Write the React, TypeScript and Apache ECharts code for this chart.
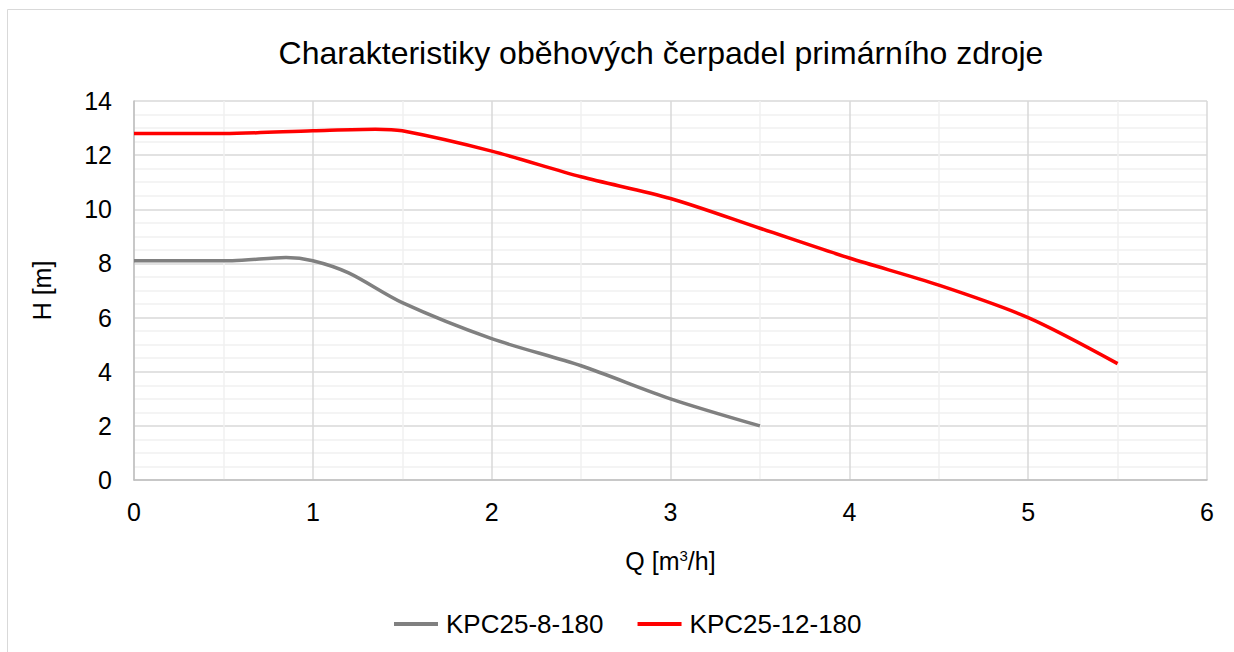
import React, { useEffect, useRef } from "react";
import * as echarts from "echarts";

const seriesNames = ["KPC25-8-180", "KPC25-12-180"];
const seriesColors = ["#808080", "#ff0000"];

const q8 = [0, 0.55, 0.85, 1.0, 1.2, 1.5, 2.0, 2.5, 3.0, 3.5];
const h8 = [8.1, 8.1, 8.22, 8.1, 7.65, 6.55, 5.22, 4.22, 3.0, 2.0];

const q12 = [0, 0.5, 1.0, 1.35, 1.5, 2.0, 2.5, 3.0, 3.5, 4.0, 4.5, 5.0, 5.5];
const h12 = [12.8, 12.8, 12.9, 12.96, 12.9, 12.15, 11.2, 10.4, 9.3, 8.2, 7.2, 6.0, 4.3];

const titleText = "Charakteristiky oběhových čerpadel primárního zdroje";
const xName = "Q [m{sup|3}/h]";
const yName = "H [m]";

const FONT = "'Liberation Sans', Arial, sans-serif";

export default function App() {
  const ref = useRef<HTMLDivElement>(null);
  useEffect(() => {
    if (!ref.current) return;
    const chart = echarts.init(ref.current, undefined, { renderer: "svg" });
    const mk = (qs: number[], hs: number[]) => qs.map((q, i) => [q, hs[i]]);
    chart.setOption({
      animation: false,
      backgroundColor: "#ffffff",
      textStyle: { fontFamily: FONT },
      title: {
        text: titleText,
        left: 656,
        textAlign: "center",
        top: 32,
        textStyle: { fontFamily: FONT, fontSize: 32, fontWeight: "normal", color: "#000" },
      },
      graphic: [
        {
          type: "polyline",
          shape: { points: [[7.5, 700], [7.5, 9.5], [1240, 9.5]] },
          style: { stroke: "#d9d9d9", lineWidth: 1, fill: null },
          silent: true,
        },
      ],
      grid: { left: 134, right: 27, top: 101, bottom: 172, containLabel: false },
      legend: {
        left: 389,
        top: 606,
        itemWidth: 44,
        itemHeight: 4,
        itemGap: 34,
        icon: "rect",
        textStyle: { fontFamily: FONT, fontSize: 26, color: "#000", padding: [0, 0, 0, 3] },
        data: seriesNames,
      },
      xAxis: {
        type: "value",
        min: 0,
        max: 6,
        interval: 1,
        name: xName,
        nameLocation: "middle",
        nameGap: 68,
        nameTextStyle: {
          fontFamily: FONT,
          fontSize: 25,
          color: "#000",
          verticalAlign: "top",
          rich: {
            sup: { fontFamily: FONT, fontSize: 15, color: "#000", padding: [0, 0, 10, 0] },
          },
        },
        axisLine: { show: true, lineStyle: { color: "#bfbfbf", width: 1.5 } },
        axisTick: { show: false },
        axisLabel: { fontFamily: FONT, fontSize: 25, color: "#000", margin: 19 },
        splitLine: { show: true, lineStyle: { color: "#d9d9d9", width: 1.5 } },
        minorTick: { show: false, splitNumber: 2 },
        minorSplitLine: { show: true, lineStyle: { color: "#f0f0f0", width: 1.5 } },
      },
      yAxis: {
        type: "value",
        min: 0,
        max: 14,
        interval: 2,
        name: yName,
        nameLocation: "middle",
        nameGap: 80,
        nameRotate: 90,
        nameTextStyle: { fontFamily: FONT, fontSize: 25, color: "#000" },
        axisLine: { show: true, lineStyle: { color: "#bfbfbf", width: 1.5 } },
        axisTick: { show: false },
        axisLabel: { fontFamily: FONT, fontSize: 25, color: "#000", margin: 22 },
        splitLine: { show: true, lineStyle: { color: "#d9d9d9", width: 1.5 } },
        minorTick: { show: false, splitNumber: 4 },
        minorSplitLine: { show: true, lineStyle: { color: "#f0f0f0", width: 1.5 } },
      },
      series: [
        {
          name: seriesNames[0],
          type: "line",
          data: mk(q8, h8),
          smooth: 0.3,
          showSymbol: false,
          symbol: "none",
          lineStyle: { color: seriesColors[0], width: 3.5 },
          itemStyle: { color: seriesColors[0] },
        },
        {
          name: seriesNames[1],
          type: "line",
          data: mk(q12, h12),
          smooth: 0.3,
          showSymbol: false,
          symbol: "none",
          lineStyle: { color: seriesColors[1], width: 3.5 },
          itemStyle: { color: seriesColors[1] },
        },
      ],
    });
    return () => chart.dispose();
  }, []);
  return (
    <div
      ref={ref}
      style={{ position: "absolute", left: 0, top: 0, width: 1234, height: 652 }}
    />
  );
}
